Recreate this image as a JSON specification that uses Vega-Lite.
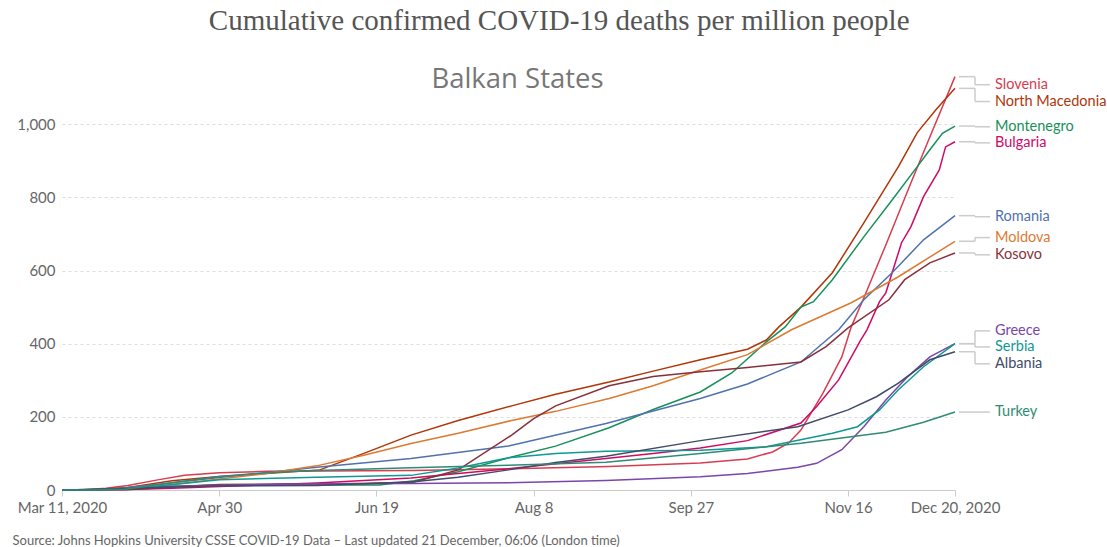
{
"$schema": "https://vega.github.io/schema/vega-lite/v6.json",
"width": 893,
"height": 417,
"autosize": {"type": "none"},
"padding": {"left": 62, "top": 73, "right": 152, "bottom": 57},
"background": "white",
"title": {"text": "Cumulative confirmed COVID-19 deaths per million people", "font": "Liberation Serif", "fontSize": 29, "fontWeight": "normal", "color": "#555555", "anchor": "middle", "frame": "bounds", "offset": 29},
"config": {"view": {"stroke": null}, "font": "Lato"},
"datasets": {
"series": [
{"c":"Slovenia","d":"2020-03-11","v":0},{"c":"Slovenia","d":"2020-03-18","v":1},{"c":"Slovenia","d":"2020-03-25","v":5},{"c":"Slovenia","d":"2020-04-01","v":12},{"c":"Slovenia","d":"2020-04-10","v":27},{"c":"Slovenia","d":"2020-04-19","v":40},{"c":"Slovenia","d":"2020-04-30","v":47},{"c":"Slovenia","d":"2020-05-15","v":51},{"c":"Slovenia","d":"2020-06-01","v":52},{"c":"Slovenia","d":"2020-07-01","v":53},{"c":"Slovenia","d":"2020-08-01","v":58},{"c":"Slovenia","d":"2020-09-01","v":64},{"c":"Slovenia","d":"2020-09-30","v":74},{"c":"Slovenia","d":"2020-10-15","v":85},{"c":"Slovenia","d":"2020-10-23","v":104},{"c":"Slovenia","d":"2020-10-28","v":128},{"c":"Slovenia","d":"2020-11-01","v":164},{"c":"Slovenia","d":"2020-11-08","v":265},{"c":"Slovenia","d":"2020-11-14","v":364},{"c":"Slovenia","d":"2020-11-17","v":446},{"c":"Slovenia","d":"2020-11-21","v":525},{"c":"Slovenia","d":"2020-11-28","v":670},{"c":"Slovenia","d":"2020-12-06","v":840},{"c":"Slovenia","d":"2020-12-12","v":965},{"c":"Slovenia","d":"2020-12-20","v":1130},
{"c":"North Macedonia","d":"2020-03-11","v":0},{"c":"North Macedonia","d":"2020-03-20","v":1},{"c":"North Macedonia","d":"2020-04-01","v":7},{"c":"North Macedonia","d":"2020-04-15","v":25},{"c":"North Macedonia","d":"2020-04-30","v":37},{"c":"North Macedonia","d":"2020-05-15","v":45},{"c":"North Macedonia","d":"2020-06-01","v":55},{"c":"North Macedonia","d":"2020-06-15","v":100},{"c":"North Macedonia","d":"2020-06-30","v":150},{"c":"North Macedonia","d":"2020-07-15","v":190},{"c":"North Macedonia","d":"2020-08-01","v":230},{"c":"North Macedonia","d":"2020-08-15","v":262},{"c":"North Macedonia","d":"2020-09-01","v":295},{"c":"North Macedonia","d":"2020-09-15","v":325},{"c":"North Macedonia","d":"2020-09-30","v":356},{"c":"North Macedonia","d":"2020-10-15","v":385},{"c":"North Macedonia","d":"2020-10-21","v":410},{"c":"North Macedonia","d":"2020-10-25","v":446},{"c":"North Macedonia","d":"2020-11-01","v":500},{"c":"North Macedonia","d":"2020-11-11","v":594},{"c":"North Macedonia","d":"2020-11-21","v":730},{"c":"North Macedonia","d":"2020-12-02","v":884},{"c":"North Macedonia","d":"2020-12-08","v":977},{"c":"North Macedonia","d":"2020-12-14","v":1040},{"c":"North Macedonia","d":"2020-12-20","v":1098},
{"c":"Montenegro","d":"2020-03-11","v":0},{"c":"Montenegro","d":"2020-03-24","v":2},{"c":"Montenegro","d":"2020-04-05","v":6},{"c":"Montenegro","d":"2020-04-15","v":10},{"c":"Montenegro","d":"2020-04-30","v":14},{"c":"Montenegro","d":"2020-06-20","v":14},{"c":"Montenegro","d":"2020-07-01","v":25},{"c":"Montenegro","d":"2020-07-15","v":50},{"c":"Montenegro","d":"2020-08-01","v":90},{"c":"Montenegro","d":"2020-08-15","v":120},{"c":"Montenegro","d":"2020-09-01","v":170},{"c":"Montenegro","d":"2020-09-15","v":220},{"c":"Montenegro","d":"2020-09-30","v":268},{"c":"Montenegro","d":"2020-10-10","v":320},{"c":"Montenegro","d":"2020-10-21","v":405},{"c":"Montenegro","d":"2020-10-27","v":446},{"c":"Montenegro","d":"2020-11-01","v":500},{"c":"Montenegro","d":"2020-11-05","v":515},{"c":"Montenegro","d":"2020-11-11","v":575},{"c":"Montenegro","d":"2020-11-21","v":692},{"c":"Montenegro","d":"2020-11-30","v":793},{"c":"Montenegro","d":"2020-12-08","v":884},{"c":"Montenegro","d":"2020-12-12","v":930},{"c":"Montenegro","d":"2020-12-16","v":975},{"c":"Montenegro","d":"2020-12-20","v":995},
{"c":"Bulgaria","d":"2020-03-11","v":0},{"c":"Bulgaria","d":"2020-03-20","v":0.5},{"c":"Bulgaria","d":"2020-04-01","v":1.5},{"c":"Bulgaria","d":"2020-04-15","v":5},{"c":"Bulgaria","d":"2020-04-30","v":9.5},{"c":"Bulgaria","d":"2020-05-31","v":19},{"c":"Bulgaria","d":"2020-06-30","v":33},{"c":"Bulgaria","d":"2020-07-15","v":45},{"c":"Bulgaria","d":"2020-07-31","v":58},{"c":"Bulgaria","d":"2020-08-15","v":72},{"c":"Bulgaria","d":"2020-08-31","v":86},{"c":"Bulgaria","d":"2020-09-15","v":100},{"c":"Bulgaria","d":"2020-09-30","v":115},{"c":"Bulgaria","d":"2020-10-15","v":135},{"c":"Bulgaria","d":"2020-11-01","v":183},{"c":"Bulgaria","d":"2020-11-06","v":228},{"c":"Bulgaria","d":"2020-11-13","v":301},{"c":"Bulgaria","d":"2020-11-20","v":410},{"c":"Bulgaria","d":"2020-11-22","v":438},{"c":"Bulgaria","d":"2020-11-26","v":515},{"c":"Bulgaria","d":"2020-11-28","v":539},{"c":"Bulgaria","d":"2020-12-03","v":676},{"c":"Bulgaria","d":"2020-12-06","v":720},{"c":"Bulgaria","d":"2020-12-10","v":802},{"c":"Bulgaria","d":"2020-12-15","v":875},{"c":"Bulgaria","d":"2020-12-17","v":938},{"c":"Bulgaria","d":"2020-12-20","v":952},
{"c":"Romania","d":"2020-03-11","v":0},{"c":"Romania","d":"2020-03-25","v":1},{"c":"Romania","d":"2020-04-10","v":15},{"c":"Romania","d":"2020-04-30","v":34},{"c":"Romania","d":"2020-05-31","v":62},{"c":"Romania","d":"2020-06-30","v":86},{"c":"Romania","d":"2020-07-31","v":120},{"c":"Romania","d":"2020-08-31","v":182},{"c":"Romania","d":"2020-09-30","v":250},{"c":"Romania","d":"2020-10-15","v":290},{"c":"Romania","d":"2020-11-01","v":350},{"c":"Romania","d":"2020-11-13","v":438},{"c":"Romania","d":"2020-11-21","v":520},{"c":"Romania","d":"2020-11-30","v":594},{"c":"Romania","d":"2020-12-10","v":684},{"c":"Romania","d":"2020-12-20","v":750},
{"c":"Moldova","d":"2020-03-11","v":0},{"c":"Moldova","d":"2020-03-25","v":1},{"c":"Moldova","d":"2020-04-10","v":10},{"c":"Moldova","d":"2020-04-30","v":30},{"c":"Moldova","d":"2020-05-15","v":45},{"c":"Moldova","d":"2020-05-31","v":66},{"c":"Moldova","d":"2020-06-15","v":95},{"c":"Moldova","d":"2020-06-30","v":127},{"c":"Moldova","d":"2020-07-15","v":155},{"c":"Moldova","d":"2020-08-01","v":190},{"c":"Moldova","d":"2020-08-15","v":215},{"c":"Moldova","d":"2020-09-01","v":250},{"c":"Moldova","d":"2020-09-15","v":285},{"c":"Moldova","d":"2020-09-30","v":328},{"c":"Moldova","d":"2020-10-15","v":370},{"c":"Moldova","d":"2020-10-29","v":438},{"c":"Moldova","d":"2020-11-17","v":512},{"c":"Moldova","d":"2020-12-02","v":583},{"c":"Moldova","d":"2020-12-20","v":680},
{"c":"Kosovo","d":"2020-03-11","v":0},{"c":"Kosovo","d":"2020-03-31","v":1},{"c":"Kosovo","d":"2020-04-30","v":15},{"c":"Kosovo","d":"2020-06-15","v":18},{"c":"Kosovo","d":"2020-07-01","v":22},{"c":"Kosovo","d":"2020-07-15","v":55},{"c":"Kosovo","d":"2020-08-01","v":150},{"c":"Kosovo","d":"2020-08-08","v":195},{"c":"Kosovo","d":"2020-08-15","v":230},{"c":"Kosovo","d":"2020-09-01","v":285},{"c":"Kosovo","d":"2020-09-15","v":310},{"c":"Kosovo","d":"2020-09-30","v":323},{"c":"Kosovo","d":"2020-10-15","v":335},{"c":"Kosovo","d":"2020-11-01","v":350},{"c":"Kosovo","d":"2020-11-09","v":392},{"c":"Kosovo","d":"2020-11-16","v":443},{"c":"Kosovo","d":"2020-11-29","v":520},{"c":"Kosovo","d":"2020-12-04","v":575},{"c":"Kosovo","d":"2020-12-12","v":621},{"c":"Kosovo","d":"2020-12-20","v":648},
{"c":"Greece","d":"2020-03-11","v":0},{"c":"Greece","d":"2020-03-25","v":2},{"c":"Greece","d":"2020-04-10","v":9},{"c":"Greece","d":"2020-04-30","v":13},{"c":"Greece","d":"2020-05-31","v":17},{"c":"Greece","d":"2020-06-30","v":18},{"c":"Greece","d":"2020-07-31","v":20},{"c":"Greece","d":"2020-08-31","v":26},{"c":"Greece","d":"2020-09-30","v":36},{"c":"Greece","d":"2020-10-15","v":45},{"c":"Greece","d":"2020-10-31","v":62},{"c":"Greece","d":"2020-11-06","v":73},{"c":"Greece","d":"2020-11-14","v":110},{"c":"Greece","d":"2020-11-21","v":173},{"c":"Greece","d":"2020-11-28","v":246},{"c":"Greece","d":"2020-12-05","v":310},{"c":"Greece","d":"2020-12-12","v":364},{"c":"Greece","d":"2020-12-20","v":400},
{"c":"Serbia","d":"2020-03-11","v":0},{"c":"Serbia","d":"2020-03-25","v":1},{"c":"Serbia","d":"2020-04-10","v":10},{"c":"Serbia","d":"2020-04-30","v":28},{"c":"Serbia","d":"2020-05-31","v":35},{"c":"Serbia","d":"2020-06-30","v":40},{"c":"Serbia","d":"2020-07-15","v":60},{"c":"Serbia","d":"2020-07-31","v":88},{"c":"Serbia","d":"2020-08-15","v":100},{"c":"Serbia","d":"2020-08-31","v":106},{"c":"Serbia","d":"2020-09-30","v":109},{"c":"Serbia","d":"2020-10-21","v":118},{"c":"Serbia","d":"2020-11-11","v":155},{"c":"Serbia","d":"2020-11-19","v":173},{"c":"Serbia","d":"2020-11-26","v":219},{"c":"Serbia","d":"2020-12-02","v":274},{"c":"Serbia","d":"2020-12-10","v":337},{"c":"Serbia","d":"2020-12-20","v":400},
{"c":"Albania","d":"2020-03-11","v":0},{"c":"Albania","d":"2020-03-25","v":2},{"c":"Albania","d":"2020-04-15","v":8},{"c":"Albania","d":"2020-04-30","v":11},{"c":"Albania","d":"2020-05-31","v":12},{"c":"Albania","d":"2020-06-30","v":22},{"c":"Albania","d":"2020-07-15","v":35},{"c":"Albania","d":"2020-07-31","v":55},{"c":"Albania","d":"2020-08-15","v":75},{"c":"Albania","d":"2020-08-31","v":92},{"c":"Albania","d":"2020-09-30","v":135},{"c":"Albania","d":"2020-10-31","v":173},{"c":"Albania","d":"2020-11-16","v":219},{"c":"Albania","d":"2020-11-25","v":255},{"c":"Albania","d":"2020-12-02","v":292},{"c":"Albania","d":"2020-12-12","v":356},{"c":"Albania","d":"2020-12-20","v":378},
{"c":"Turkey","d":"2020-03-11","v":0},{"c":"Turkey","d":"2020-03-20","v":0.1},{"c":"Turkey","d":"2020-03-31","v":2},{"c":"Turkey","d":"2020-04-15","v":20},{"c":"Turkey","d":"2020-04-30","v":37},{"c":"Turkey","d":"2020-05-15","v":47},{"c":"Turkey","d":"2020-05-31","v":53},{"c":"Turkey","d":"2020-06-30","v":61},{"c":"Turkey","d":"2020-07-31","v":68},{"c":"Turkey","d":"2020-08-31","v":76},{"c":"Turkey","d":"2020-09-30","v":100},{"c":"Turkey","d":"2020-11-01","v":128},{"c":"Turkey","d":"2020-11-28","v":158},{"c":"Turkey","d":"2020-12-10","v":185},{"c":"Turkey","d":"2020-12-20","v":213}
],
"labels": [
{"c":"Slovenia","d":"2020-12-20","final":1130,"labelAt":1108},
{"c":"North Macedonia","d":"2020-12-20","final":1098,"labelAt":1062},
{"c":"Montenegro","d":"2020-12-20","final":995,"labelAt":993},
{"c":"Bulgaria","d":"2020-12-20","final":952,"labelAt":949},
{"c":"Romania","d":"2020-12-20","final":750,"labelAt":747},
{"c":"Moldova","d":"2020-12-20","final":680,"labelAt":690},
{"c":"Kosovo","d":"2020-12-20","final":648,"labelAt":643},
{"c":"Greece","d":"2020-12-20","final":400,"labelAt":435},
{"c":"Serbia","d":"2020-12-20","final":400,"labelAt":391},
{"c":"Albania","d":"2020-12-20","final":378,"labelAt":345},
{"c":"Turkey","d":"2020-12-20","final":213,"labelAt":213}
]
},
"resolve": {"axis": {"x": "independent"}},
"layer": [
{
"data": {"name": "series"},
"mark": {"type": "line", "strokeWidth": 1.5},
"encoding": {
"x": {"field": "d", "type": "temporal", "title": "Source: Johns Hopkins University CSSE COVID-19 Data – Last updated 21 December, 06:06 (London time)",
"scale": {"domain": [{"year": 2020, "month": 3, "date": 11}, {"year": 2020, "month": 12, "date": 20}]},
"axis": {"values": [{"year": 2020, "month": 3, "date": 11}, {"year": 2020, "month": 4, "date": 30}, {"year": 2020, "month": 6, "date": 19}, {"year": 2020, "month": 8, "date": 8}, {"year": 2020, "month": 9, "date": 27}, {"year": 2020, "month": 11, "date": 16}, {"year": 2020, "month": 12, "date": 20}],
"labelExpr": "(month(datum.value) == 2 && date(datum.value) == 11) || month(datum.value) == 11 ? timeFormat(datum.value, '%b %-d, %Y') : timeFormat(datum.value, '%b %-d')",
"grid": false, "domainColor": "#cccccc", "tickColor": "#cccccc", "tickSize": 6, "labelFont": "Lato", "labelFontSize": 15, "labelColor": "#666666", "labelPadding": 4, "labelFlush": false, "labelOverlap": false,
"titleFont": "Lato", "titleFontSize": 13, "titleFontWeight": "normal", "titleColor": "#666666", "titleAnchor": "start", "titleAlign": "left", "titleX": -50, "titleY": 50, "titleBaseline": "middle"}},
"y": {"field": "v", "type": "quantitative", "title": null,
"scale": {"domain": [0, 1140], "nice": false},
"axis": {"values": [0, 200, 400, 600, 800, 1000], "format": ",.0f", "domain": false, "ticks": false, "labelPadding": 7, "labelFont": "Lato", "labelFontSize": 15, "labelColor": "#666666", "gridColor": "#dddddd", "gridDash": [3, 3], "gridWidth": 1}},
"color": {"field": "c", "type": "nominal", "legend": null,
"scale": {"domain": ["Slovenia", "North Macedonia", "Montenegro", "Bulgaria", "Romania", "Moldova", "Kosovo", "Greece", "Serbia", "Albania", "Turkey"],
"range": ["#d73c50", "#b13507", "#17905a", "#cf0a66", "#4f72ae", "#dc7a32", "#883039", "#7a47a8", "#0f9894", "#404b6a", "#2e8b74"]}}
}
},
{
"data": {"name": "labels"},
"mark": {"type": "rule", "xOffset": 4, "x2Offset": 20, "color": "#cccccc", "strokeWidth": 1.5},
"encoding": {
"x": {"field": "d", "type": "temporal", "axis": null},
"x2": {"field": "d"},
"y": {"field": "final", "type": "quantitative", "title": null}
}
},
{
"data": {"name": "labels"},
"mark": {"type": "rule", "xOffset": 20, "color": "#cccccc", "strokeWidth": 1.5},
"encoding": {
"x": {"field": "d", "type": "temporal", "axis": null},
"y": {"field": "final", "type": "quantitative", "title": null},
"y2": {"field": "labelAt"}
}
},
{
"data": {"name": "labels"},
"mark": {"type": "rule", "xOffset": 20, "x2Offset": 35, "color": "#cccccc", "strokeWidth": 1.5},
"encoding": {
"x": {"field": "d", "type": "temporal", "axis": null},
"x2": {"field": "d"},
"y": {"field": "labelAt", "type": "quantitative", "title": null}
}
},
{
"data": {"name": "labels"},
"mark": {"type": "text", "align": "left", "baseline": "middle", "dx": 40, "font": "Lato", "fontSize": 14.5},
"encoding": {
"x": {"field": "d", "type": "temporal", "title": "Balkan States",
"axis": {"orient": "top", "domain": false, "ticks": false, "labels": false, "grid": false, "titleFont": "Open Sans", "titleFontSize": 27.5, "titleFontWeight": "normal", "titleColor": "#777777", "titleX": 455, "titleAlign": "center", "titleY": 6, "titleBaseline": "middle"}},
"y": {"field": "labelAt", "type": "quantitative", "title": null},
"text": {"field": "c"},
"color": {"field": "c", "type": "nominal", "legend": null}
}
}
]
}
